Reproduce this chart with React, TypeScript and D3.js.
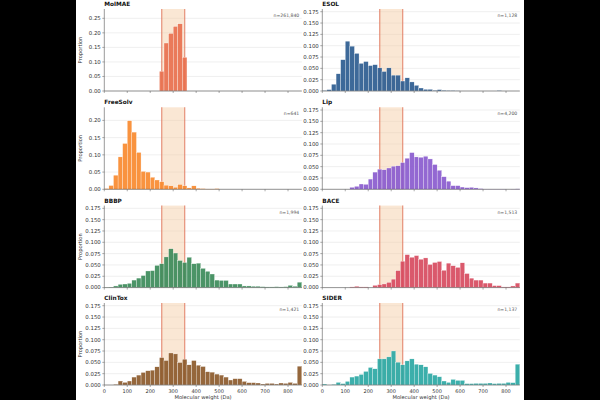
import * as d3 from "d3";

// Histogram bins: 20 Da wide, 0–860 Da (43 bins). Values are per-bin proportions.
const BIN_WIDTH = 20;
const X_MAX = 860;
const BIN_STARTS = d3.range(0, X_MAX, BIN_WIDTH);
const X_TICKS = [0, 100, 200, 300, 400, 500, 600, 700, 800];
const WINDOW = [250, 350];

const MOLMAE = [
  0, 0, 0, 0, 0, 0, 0, 0, 0, 0, 0, 0, 0.068, 0.165, 0.198, 0.222, 0.231, 0.116,
  0, 0, 0, 0, 0, 0, 0, 0, 0, 0, 0, 0, 0, 0, 0, 0, 0, 0, 0, 0, 0, 0, 0, 0, 0,
];
const ESOL = [
  0.001, 0.003, 0.015, 0.038, 0.069, 0.11, 0.099, 0.083, 0.061, 0.065, 0.056,
  0.058, 0.051, 0.043, 0.051, 0.035, 0.035, 0.022, 0.029, 0.02, 0.0125, 0.0066,
  0.0037, 0.0037, 0.0015, 0.003, 0.0015, 0.001, 0.001, 0.0005, 0, 0, 0, 0, 0, 0,
  0, 0, 0.001, 0, 0, 0, 0,
];
const FREESOLV = [
  0.002, 0.011, 0.041, 0.094, 0.133, 0.199, 0.166, 0.107, 0.052, 0.05, 0.035,
  0.027, 0.022, 0.012, 0.01, 0.006, 0.014, 0.01, 0.004, 0.01, 0.003, 0.002,
  0.001, 0.001, 0.002, 0, 0, 0, 0, 0, 0, 0, 0, 0, 0, 0, 0, 0, 0, 0, 0, 0, 0,
];
const LIP = [
  0, 0, 0, 0, 0, 0, 0.0044, 0.0066, 0.0117, 0.011, 0.0226, 0.038, 0.0445,
  0.043, 0.047, 0.051, 0.0518, 0.059, 0.0686, 0.081, 0.0715, 0.0707, 0.073,
  0.067, 0.0547, 0.042, 0.0277, 0.018, 0.008, 0.008, 0.005, 0.0036, 0.0044,
  0.003, 0.0015, 0.0005, 0.0005, 0.0005, 0.0005, 0.0005, 0, 0.0005, 0.001,
];
const BBBP = [
  0.0005, 0.001, 0.0036, 0.0072, 0.0079, 0.0094, 0.0166, 0.021, 0.0266, 0.0367,
  0.0374, 0.049, 0.0526, 0.0677, 0.0857, 0.0763, 0.0598, 0.0554, 0.067, 0.0526,
  0.054, 0.0425, 0.036, 0.03, 0.0166, 0.0158, 0.0158, 0.0079, 0.0079, 0.0079,
  0.0036, 0.0036, 0.003, 0.003, 0.002, 0.0015, 0.0015, 0.002, 0.0015, 0.002,
  0.005, 0.003, 0.012,
];
const BACE = [
  0, 0, 0, 0, 0, 0, 0.0015, 0.003, 0.0015, 0.0015, 0, 0.005, 0.0065, 0.008,
  0.0115, 0.0187, 0.0374, 0.0583, 0.0727, 0.067, 0.0706, 0.0626, 0.0655,
  0.0511, 0.0554, 0.0576, 0.0382, 0.054, 0.0482, 0.0446, 0.0547, 0.031, 0.0209,
  0.0166, 0.0166, 0.01, 0.01, 0.0043, 0.0043, 0.0015, 0.0015, 0.0036, 0.01,
];
const CLINTOX = [
  0, 0, 0.0015, 0.0088, 0.0058, 0.0088, 0.0175, 0.0219, 0.0277, 0.0314, 0.0328,
  0.0401, 0.0605, 0.054, 0.0707, 0.0686, 0.0496, 0.0569, 0.0445, 0.054, 0.0438,
  0.0408, 0.0292, 0.0284, 0.0241, 0.0219, 0.0175, 0.011, 0.0139, 0.0139, 0.008,
  0.0051, 0.0051, 0.0044, 0.0022, 0.0036, 0.0036, 0.0022, 0.0044, 0.0036,
  0.0058, 0.0036, 0.0416,
];
const SIDER = [
  0.0022, 0, 0.0015, 0.0058, 0.003, 0.008, 0.0175, 0.0197, 0.0233, 0.03, 0.0387,
  0.0357, 0.0576, 0.0576, 0.062, 0.0751, 0.0503, 0.0445, 0.0532, 0.0576, 0.046,
  0.0445, 0.0401, 0.0255, 0.0219, 0.0182, 0.0088, 0.0058, 0.0124, 0.0102,
  0.0102, 0.003, 0.003, 0.0036, 0.0036, 0.0036, 0.0044, 0.003, 0.0036, 0.0036,
  0.0058, 0.0051, 0.046,
];

const NAMES = ["MolMAE", "ESOL", "FreeSolv", "Lip", "BBBP", "BACE", "ClinTox", "SIDER"];
const COUNTS = ["n=261,840", "n=1,128", "n=641", "n=4,200", "n=1,994", "n=1,513", "n=1,421", "n=1,137"];
const SERIES = [MOLMAE, ESOL, FREESOLV, LIP, BBBP, BACE, CLINTOX, SIDER];
const COLORS = ["#e8714f", "#2c5c90", "#f88a2f", "#8a5bce", "#3c8b5a", "#d74b60", "#8c5a2b", "#2ba8a4"];
const Y_MAX = [0.282, 0.181, 0.238, 0.181, 0.181, 0.181, 0.181, 0.181];
const Y_TICKS_WIDE = [0, 0.05, 0.1, 0.15, 0.2, 0.25];
const Y_TICKS_FINE = [0, 0.025, 0.05, 0.075, 0.1, 0.125, 0.15, 0.175];

const FONT = "'DejaVu Sans', sans-serif";
const COL_X = [104.3, 322.3];
const PLOT_W = 197.5;
const ROW_BOTTOM = [91, 189.3, 287.6, 385];
const PLOT_H = 82;

function Panel({ idx }: { idx: number }) {
  const col = idx % 2;
  const row = Math.floor(idx / 2);
  const left = COL_X[col];
  const top = ROW_BOTTOM[row] - PLOT_H;
  const values = SERIES[idx];
  const color = COLORS[idx];
  const isBottom = row === 3;

  const x = d3.scaleLinear().domain([0, X_MAX]).range([0, PLOT_W]);
  const y = d3.scaleLinear().domain([0, Y_MAX[idx]]).range([PLOT_H, 0]);
  const wide = idx === 0 || idx === 2;
  const yTicks = wide ? Y_TICKS_WIDE.filter((t) => t <= Y_MAX[idx]) : Y_TICKS_FINE;
  const fmt = wide ? d3.format(".2f") : d3.format(".3f");

  return (
    <g transform={`translate(${left},${top})`}>
      {yTicks.map((t) => (
        <line key={`g${t}`} x1={0} x2={PLOT_W} y1={y(t)} y2={y(t)} stroke="#e4e4e4" strokeWidth={0.6} />
      ))}
      {/* 250–350 Da window */}
      <rect
        x={x(WINDOW[0])}
        y={0}
        width={x(WINDOW[1]) - x(WINDOW[0])}
        height={PLOT_H}
        fill="#f5c9a0"
        fillOpacity={0.45}
      />
      {WINDOW.map((w) => (
        <line key={`w${w}`} x1={x(w)} x2={x(w)} y1={0} y2={PLOT_H} stroke="#e07a5f" strokeOpacity={0.75} strokeWidth={1.3} />
      ))}
      {values.map((v, i) =>
        v > 0 ? (
          <rect
            key={i}
            x={x(BIN_STARTS[i])}
            y={y(v)}
            width={x(BIN_STARTS[i] + BIN_WIDTH) - x(BIN_STARTS[i])}
            height={PLOT_H - y(v)}
            fill={color}
            fillOpacity={0.92}
            stroke="#fff"
            strokeWidth={0.3}
          />
        ) : null,
      )}
      <line x1={0} x2={0} y1={0} y2={PLOT_H} stroke="#555" strokeWidth={0.6} />
      <line x1={0} x2={PLOT_W} y1={PLOT_H} y2={PLOT_H} stroke="#555" strokeWidth={0.6} />
      {yTicks.map((t) => (
        <g key={`t${t}`} transform={`translate(0,${y(t)})`}>
          <line x1={-2} x2={0} stroke="#555" strokeWidth={0.5} />
          <text x={-3.5} dy="0.35em" textAnchor="end" fontSize={5.4} fill="#333" fontFamily={FONT}>
            {fmt(t)}
          </text>
        </g>
      ))}
      {X_TICKS.map((t) => (
        <g key={`x${t}`} transform={`translate(${x(t)},${PLOT_H})`}>
          <line y1={0} y2={2} stroke="#555" strokeWidth={0.5} />
          {isBottom && (
            <text y={7.8} textAnchor="middle" fontSize={5} fill="#333" fontFamily={FONT}>
              {t}
            </text>
          )}
        </g>
      ))}
      <text x={PLOT_W - 2.5} y={8} textAnchor="end" fontSize={4.6} fill="#555" fontFamily={FONT}>
        {COUNTS[idx]}
      </text>
      <text x={0} y={-3} fontSize={5.8} fontWeight="bold" fill="#111" fontFamily={FONT}>
        {NAMES[idx]}
      </text>
      {col === 0 && (
        <text
          transform={`translate(-22,${PLOT_H / 2}) rotate(-90)`}
          textAnchor="middle"
          fontSize={5.2}
          fill="#333"
          fontFamily={FONT}
        >
          Proportion
        </text>
      )}
      {isBottom && (
        <text x={PLOT_W / 2} y={PLOT_H + 13.6} textAnchor="middle" fontSize={5.2} fill="#333" fontFamily={FONT}>
          Molecular weight (Da)
        </text>
      )}
    </g>
  );
}

export default function App() {
  return (
    <svg
      width={600}
      height={400}
      style={{ position: "fixed", left: 0, top: 0, display: "block" }}
    >
      <rect x={0} y={0} width={600} height={400} fill="#000" />
      <rect x={76} y={0} width={448} height={400} fill="#fff" />
      {NAMES.map((_, i) => (
        <Panel key={i} idx={i} />
      ))}
    </svg>
  );
}
